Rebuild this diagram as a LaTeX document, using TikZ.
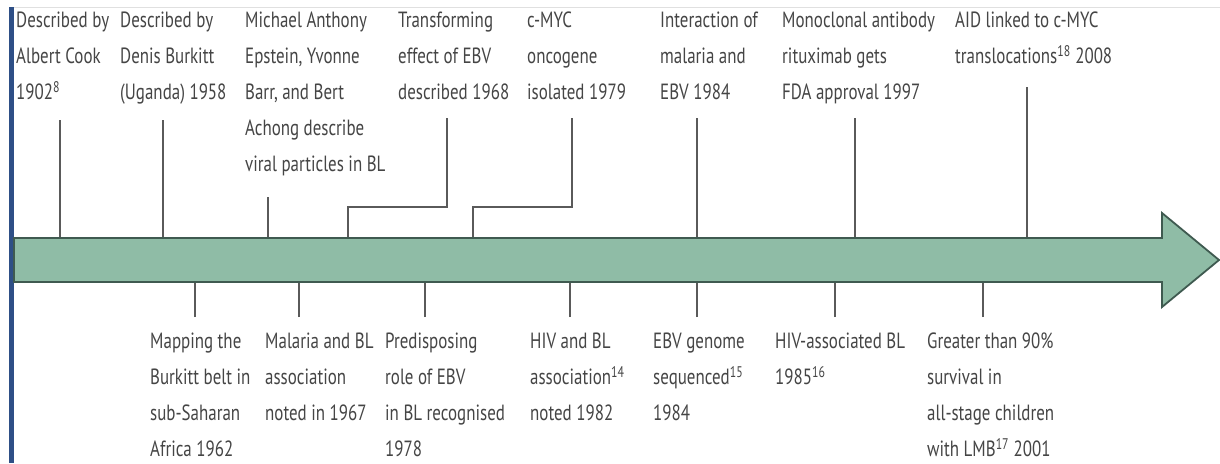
\documentclass[tikz,border=0pt]{standalone}
\usepackage{fontspec}
\setmainfont[FakeStretch=0.77]{PT Sans}
\usetikzlibrary{calc}
\definecolor{Band}{HTML}{8FBCA6}
\definecolor{BandLine}{HTML}{3F5A50}
\definecolor{Stem}{HTML}{5A5A5A}
\definecolor{Ink}{HTML}{454545}
\definecolor{Edge}{HTML}{2E4F86}
\tikzset{
  event/.style={anchor=north west,inner sep=0pt,align=left,text=Ink,
    font=\fontsize{22}{36}\selectfont},
  stem/.style={draw=Stem,line width=1.6pt},
  band/.style={draw=BandLine,fill=Band,line width=1.8pt,line join=miter}
}
\begin{document}
\begin{tikzpicture}[x=1pt,y=-1pt]
    \useasboundingbox (0,0) rectangle (1220,463);
    \fill[white] (0,0) rectangle (1220,463);
    \draw[black!12,line width=1pt] (9,7) -- (1220,7);
    \fill[Edge] (9,7) rectangle (14,463);
    % events above the band
    \node[event] (a1) at (16,12) {Described by\\Albert Cook\\1902\textsuperscript{8}};
    \node[event] (a2) at (120,12) {Described by\\Denis Burkitt\\(Uganda) 1958};
    \node[event] (a3) at (245,12) {Michael Anthony\\Epstein, Yvonne\\Barr, and Bert\\Achong describe\\viral particles in BL};
    \node[event] (a4) at (398,12) {Transforming\\effect of EBV\\described 1968};
    \node[event] (a5) at (527,12) {c-MYC\\oncogene\\isolated 1979};
    \node[event] (a6) at (660,12) {Interaction of\\malaria and\\EBV 1984};
    \node[event] (a7) at (782,12) {Monoclonal antibody\\rituximab gets\\FDA approval 1997};
    \node[event] (a8) at (955,12) {AID linked to c-MYC\\translocations\textsuperscript{18} 2008};
    % events below the band
    \node[event] (b1) at (150,333) {Mapping the\\Burkitt belt in\\sub-Saharan\\Africa 1962};
    \node[event] (b2) at (265,333) {Malaria and BL\\association\\noted in 1967};
    \node[event] (b3) at (385,333) {Predisposing\\role of EBV\\in BL recognised\\1978};
    \node[event] (b4) at (530,333) {HIV and BL\\association\textsuperscript{14}\\noted 1982};
    \node[event] (b5) at (653,333) {EBV genome\\sequenced\textsuperscript{15}\\1984};
    \node[event] (b6) at (775,333) {HIV-associated BL\\1985\textsuperscript{16}};
    \node[event] (b7) at (927,333) {Greater than 90\%\\survival in\\all-stage children\\with LMB\textsuperscript{17} 2001};
    \coordinate (btop) at (0,238);
    \coordinate (bbot) at (0,282);
    \coordinate (s1) at (60,120);
    \coordinate (s2) at (163,120);
    \coordinate (s3) at (268,197);
    \coordinate (s4) at (447,118);
    \coordinate (s5) at (572,118);
    \coordinate (s6) at (697,118);
    \coordinate (s7) at (855,118);
    \coordinate (s8) at (1027,87);
    \coordinate (k4) at (348,207);
    \coordinate (k5) at (473,207);
    \foreach \s in {s1,s2,s3,s6,s7,s8}
      \draw[stem] (\s) -- (\s |- btop);
    \draw[stem] (s4) |- (k4) -- (k4 |- btop);
    \draw[stem] (s5) |- (k5) -- (k5 |- btop);
    \foreach \x/\n in {195/t1,299/t2,425/t3,570/t4,697/t5,835/t6,983/t7} {
      \coordinate (\n) at (\x,317);
      \draw[stem] (\n) -- (\n |- bbot);
    }
    \draw[band] (14,238) -- (1162,238) -- (1162,213) -- (1219,260)
      -- (1162,307) -- (1162,282) -- (14,282) -- cycle;
  \end{tikzpicture}
\end{document}
